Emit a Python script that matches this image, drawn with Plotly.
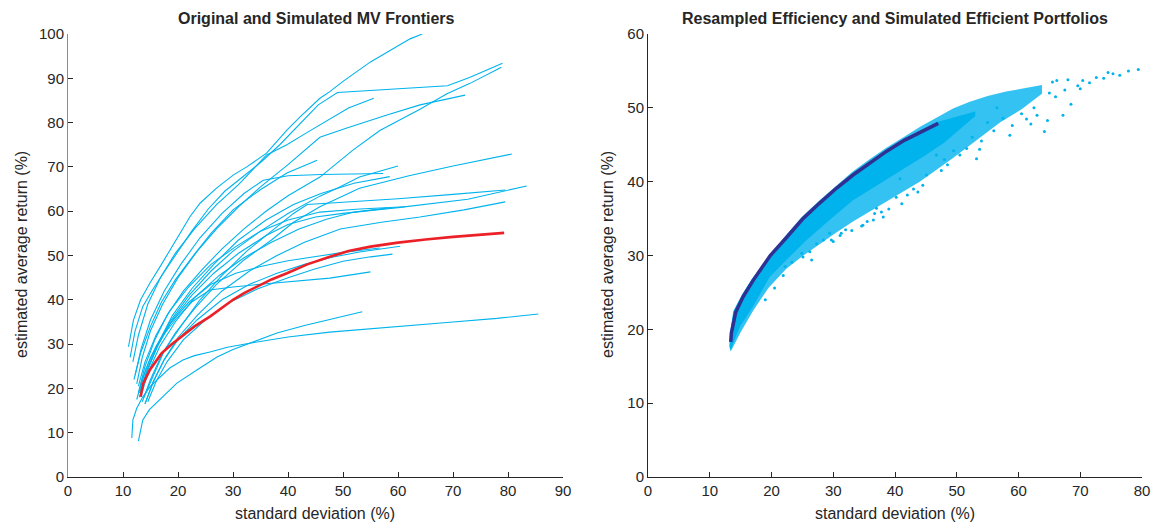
import plotly.graph_objects as go

# ---------------- Left panel: simulated MV frontiers (sd %, return %) ----------------
sim01_sd = [11.0, 11.9, 13.2, 14.9, 16.8, 18.5, 20.7, 22.2, 24.0, 27.0, 30.1, 32.5, 36.1, 39.8, 42.2, 45.8, 47.6, 50.0, 55.0, 58.5, 62.2, 64.4]
sim01_ret = [29.4, 35.4, 40.0, 43.8, 47.6, 51.2, 55.8, 58.8, 61.8, 65.2, 68.2, 70.0, 73.1, 78.3, 81.3, 85.5, 87.0, 89.3, 93.7, 96.3, 98.9, 100.0]
sim02_sd = [11.3, 12.2, 13.6, 15.5, 17.6, 19.8, 22.5, 25.5, 28.5, 31.5, 35.0, 38.5, 42.0, 45.5, 49.0, 58.0, 69.0, 73.0, 76.2, 79.0]
sim02_ret = [27.0, 33.0, 38.5, 42.5, 46.5, 50.5, 55.5, 60.5, 64.5, 67.5, 71.0, 75.0, 79.5, 84.0, 86.8, 87.5, 88.3, 90.2, 91.9, 93.4]
sim03_sd = [12.8, 14.0, 15.8, 18.0, 21.0, 24.5, 28.0, 32.0, 36.0, 40.0, 45.8, 51.8, 56.7, 64.0, 68.9, 73.0, 78.8]
sim03_ret = [19.0, 25.0, 31.0, 36.5, 42.0, 47.0, 51.5, 56.0, 60.0, 63.5, 67.7, 73.8, 78.2, 83.0, 86.5, 88.8, 92.5]
sim04_sd = [12.5, 13.5, 15.0, 17.2, 20.0, 23.5, 27.0, 31.0, 35.0, 40.0, 45.8, 50.7, 58.0, 64.0, 72.2]
sim04_ret = [21.0, 27.0, 33.0, 39.0, 45.0, 51.0, 56.0, 61.0, 65.5, 70.5, 76.7, 78.8, 81.7, 84.0, 86.2]
sim05_sd = [11.8, 12.8, 14.5, 16.8, 19.5, 23.0, 27.0, 31.0, 36.1, 39.8, 43.5, 47.6, 51.0, 55.6]
sim05_ret = [26.0, 32.0, 39.0, 45.0, 50.5, 56.0, 61.5, 66.0, 72.7, 75.0, 77.8, 80.8, 83.3, 85.5]
sim06_sd = [12.0, 13.2, 15.0, 17.0, 19.5, 22.5, 26.0, 30.0, 34.9, 39.8, 45.3]
sim06_ret = [22.0, 28.0, 34.0, 39.5, 44.5, 49.5, 55.0, 60.3, 64.8, 68.6, 71.5]
sim07_sd = [13.0, 14.3, 16.0, 18.5, 22.0, 26.0, 30.0, 35.0, 40.0, 45.8, 49.5, 53.0, 60.0]
sim07_ret = [18.0, 23.5, 29.0, 35.0, 41.0, 46.5, 51.0, 55.5, 59.5, 63.4, 65.5, 67.7, 70.2]
sim08_sd = [12.2, 13.3, 15.0, 17.5, 20.5, 24.0, 28.0, 32.0, 35.5, 40.0, 46.0, 52.0, 57.3]
sim08_ret = [23.0, 29.0, 35.5, 42.0, 48.0, 54.0, 59.5, 64.0, 67.0, 68.0, 68.3, 68.4, 68.5]
sim09_sd = [13.2, 14.5, 16.5, 19.0, 22.5, 26.5, 31.0, 36.0, 41.0, 46.0, 52.0, 58.5]
sim09_ret = [19.0, 24.5, 30.5, 36.5, 42.5, 48.0, 53.5, 58.0, 61.5, 64.0, 66.3, 67.8]
sim10_sd = [13.5, 15.0, 17.0, 19.5, 23.0, 27.0, 32.0, 37.0, 41.0, 45.8, 53.0, 62.0, 70.0, 80.7]
sim10_ret = [17.0, 22.0, 27.5, 32.5, 38.0, 43.5, 49.0, 53.5, 57.5, 61.0, 65.2, 68.0, 70.2, 72.9]
sim11_sd = [13.0, 14.5, 16.5, 19.0, 22.5, 26.5, 31.0, 36.0, 40.0, 45.0, 50.0, 60.0, 72.7, 83.4]
sim11_ret = [19.0, 24.5, 30.0, 35.5, 41.0, 46.0, 50.5, 54.5, 57.0, 58.7, 59.5, 60.8, 62.7, 65.7]
sim12_sd = [13.8, 15.5, 17.5, 20.5, 24.0, 28.0, 32.5, 37.0, 41.0, 43.5, 50.0, 60.0, 70.0, 79.5]
sim12_ret = [18.0, 23.0, 28.5, 34.0, 40.0, 45.5, 51.0, 55.5, 59.5, 61.5, 62.0, 62.8, 63.8, 64.8]
sim13_sd = [14.0, 15.5, 17.5, 20.0, 23.5, 28.0, 33.0, 38.0, 43.0, 49.5, 57.0, 64.0, 72.0, 79.5]
sim13_ret = [16.5, 21.5, 26.5, 31.5, 36.5, 42.0, 46.5, 50.0, 53.0, 56.0, 57.5, 58.7, 60.3, 62.1]
sim14_sd = [12.8, 14.0, 16.0, 18.5, 22.0, 26.0, 30.5, 35.0, 40.0, 45.8, 53.0, 61.3]
sim14_ret = [20.5, 26.0, 32.0, 37.5, 43.0, 48.0, 52.0, 55.5, 58.0, 59.8, 60.5, 61.0]
sim15_sd = [13.3, 14.7, 16.7, 19.5, 23.0, 27.5, 32.0, 37.0, 42.0, 47.0, 52.0, 58.0]
sim15_ret = [18.5, 24.0, 29.5, 35.0, 40.5, 45.5, 49.5, 53.0, 56.0, 58.2, 59.8, 60.7]
sim16_sd = [14.0, 15.5, 17.5, 20.0, 23.5, 28.0, 33.0, 38.0, 43.0, 48.0, 53.0, 60.4]
sim16_ret = [16.5, 21.5, 26.5, 31.0, 35.5, 40.0, 43.5, 46.0, 48.0, 49.6, 50.8, 52.1]
sim17_sd = [14.5, 16.0, 18.0, 21.0, 25.0, 29.5, 34.5, 40.0, 45.0, 50.0, 55.0, 59.0]
sim17_ret = [17.0, 21.5, 26.0, 31.0, 35.5, 39.5, 42.5, 45.0, 47.0, 48.7, 49.7, 50.3]
sim18_sd = [13.0, 14.2, 16.0, 18.5, 22.0, 26.0, 30.5, 35.0, 40.0, 45.0, 50.0, 56.7]
sim18_ret = [19.5, 24.5, 29.5, 34.5, 39.5, 43.5, 46.0, 47.5, 48.8, 49.8, 50.7, 51.7]
sim19_sd = [12.5, 13.5, 15.0, 17.0, 19.5, 22.5, 25.8, 30.0, 35.0, 41.0, 47.6, 55.0]
sim19_ret = [17.5, 22.0, 27.0, 31.5, 35.5, 39.5, 42.2, 42.9, 43.5, 44.2, 44.9, 46.3]
sim20_sd = [12.8, 13.6, 14.8, 16.2, 18.0, 19.8, 23.5, 27.1, 30.0, 33.0, 38.0, 43.0, 47.6, 53.5]
sim20_ret = [8.1, 12.9, 15.2, 16.9, 19.2, 21.2, 24.2, 27.1, 28.8, 30.2, 32.5, 34.2, 35.5, 37.3]
sim21_sd = [11.6, 11.8, 12.5, 13.6, 15.0, 16.7, 18.5, 20.9, 23.0, 25.8, 29.0, 33.0, 40.0, 47.6, 55.0, 62.0, 70.0, 78.0, 85.5]
sim21_ret = [8.8, 12.9, 15.5, 18.1, 20.5, 22.6, 24.6, 26.4, 27.4, 28.2, 29.3, 30.2, 31.6, 32.7, 33.5, 34.1, 35.0, 35.8, 36.8]

# original frontier
orig_sd = [13.2, 13.7, 14.9, 17.0, 18.8, 20.6, 23.0, 25.8, 28.0, 30.0, 32.0, 34.3, 37.0, 39.8, 43.5, 47.6, 51.0, 55.0, 60.0, 65.0, 70.0, 79.3]
orig_ret = [18.1, 21.2, 24.2, 27.9, 29.9, 31.7, 34.0, 36.2, 38.3, 40.0, 41.5, 43.0, 44.6, 46.0, 48.0, 49.7, 51.0, 52.0, 52.9, 53.6, 54.2, 55.1]

# ---------------- Right panel ----------------
# resampled efficient frontier
resamp_sd = [13.4, 13.5, 14.2, 15.4, 17.0, 18.1, 19.8, 22.4, 25.0, 27.8, 30.5, 33.2, 36.0, 38.6, 41.5, 44.0, 46.0, 47.0]
resamp_ret = [18.3, 19.5, 22.3, 24.4, 26.6, 28.0, 30.0, 32.4, 34.9, 37.1, 39.1, 40.9, 42.6, 44.1, 45.6, 46.7, 47.5, 47.9]

# dense core of simulated efficient portfolios (outline)
core_up_sd = [13.2, 13.3, 13.8, 15.2, 16.8, 18.1, 19.8, 22.4, 25.0, 27.8, 30.5, 33.2, 36.0, 38.6, 41.5, 44.0, 47.0, 49.0, 51.0, 53.0]
core_up_ret = [17.6, 19.5, 22.4, 24.7, 26.8, 28.2, 30.2, 32.6, 35.1, 37.3, 39.3, 41.1, 42.8, 44.3, 45.8, 46.9, 48.1, 48.6, 49.1, 49.5]
core_lo_sd = [13.4, 14.0, 14.9, 17.0, 19.7, 22.4, 25.7, 29.4, 33.2, 37.5, 41.9, 45.0, 48.0, 50.0, 53.0]
core_lo_ret = [17.1, 18.6, 20.4, 23.1, 27.1, 29.4, 32.1, 34.8, 37.5, 39.7, 42.0, 43.6, 45.3, 46.7, 48.9]
# lighter, speckled fringe around the core
fringe_up_sd = [13.2, 13.4, 14.0, 15.5, 17.0, 19.5, 22.4, 25.0, 27.8, 30.5, 33.2, 36.0, 38.6, 41.5, 44.0, 47.0, 49.4, 52.0, 55.0, 58.0, 61.0, 63.8]
fringe_up_ret = [17.8, 19.8, 22.7, 25.0, 27.0, 29.8, 32.8, 35.3, 37.5, 39.5, 41.4, 43.1, 44.6, 46.1, 47.4, 48.8, 49.9, 50.8, 51.6, 52.2, 52.7, 53.1]
fringe_lo_sd = [13.4, 15.0, 17.0, 19.5, 22.4, 25.0, 27.8, 30.5, 33.2, 38.6, 44.0, 49.4, 53.0, 57.0, 60.5, 63.8]
fringe_lo_ret = [17.0, 19.6, 22.5, 25.6, 28.2, 29.9, 31.5, 33.1, 34.6, 37.3, 40.0, 43.2, 45.5, 48.0, 49.8, 51.9]
# scattered individual portfolios outside the fringe
dots_sd = [31.1, 34.6, 38.1, 41.1, 43.7, 45.1, 47.5, 53.2, 27.3, 24.9, 23.3, 22.2, 28.4, 29.4, 33.0, 34.8,
           36.7, 37.0, 40.2, 40.8, 36.5, 31.3, 29.7, 26.2, 53.7, 58.6, 64.2, 67.2, 64.7, 61.3, 50.5, 51.6,
           46.7, 44.5, 37.8, 25.1, 21.9, 20.5, 19.0, 66.2, 70.4, 72.6, 75.3, 79.4, 71.5, 69.6, 73.8, 67.5,
           76.4, 65.0, 68.5, 62.5, 59.0, 56.0, 55.0, 48.5, 57.5, 60.5, 63.0, 66.0, 62.0, 65.5, 56.5, 54.0,
           49.5, 52.5, 42.0, 39.0, 35.5, 32.0, 30.0, 26.5, 43.0, 48.0, 70.0, 74.5, 77.8, 68.0]
dots_ret = [32.7, 34.0, 35.2, 37.0, 38.6, 40.9, 41.5, 43.1, 31.6, 30.3, 29.1, 28.5, 32.1, 33.0, 33.4, 34.1,
            35.7, 36.4, 37.9, 40.4, 34.8, 33.0, 32.1, 30.5, 44.4, 46.3, 46.8, 49.0, 48.3, 48.5, 43.6, 44.5,
            43.6, 39.5, 35.9, 29.8, 27.3, 25.6, 24.0, 53.7, 53.7, 54.1, 54.6, 55.2, 53.4, 53.0, 54.0, 52.4,
            54.4, 52.0, 50.5, 50.0, 47.6, 46.9, 48.0, 42.3, 48.6, 49.2, 49.0, 51.5, 47.8, 53.5, 50.0, 45.5,
            44.2, 46.0, 38.2, 36.3, 34.6, 33.5, 31.9, 29.4, 39.0, 43.0, 52.6, 54.8, 55.0, 53.8]

CYAN = "#00B3ED"
RED = "#EC2127"
NAVY = "#2E3192"
AX = "#262626"
FONT = "Liberation Sans, Arial, Helvetica, sans-serif"

fig = go.Figure()

sims = [
    (sim01_sd, sim01_ret), (sim02_sd, sim02_ret), (sim03_sd, sim03_ret), (sim04_sd, sim04_ret),
    (sim05_sd, sim05_ret), (sim06_sd, sim06_ret), (sim07_sd, sim07_ret), (sim08_sd, sim08_ret),
    (sim09_sd, sim09_ret), (sim10_sd, sim10_ret), (sim11_sd, sim11_ret), (sim12_sd, sim12_ret),
    (sim13_sd, sim13_ret), (sim14_sd, sim14_ret), (sim15_sd, sim15_ret), (sim16_sd, sim16_ret),
    (sim17_sd, sim17_ret), (sim18_sd, sim18_ret), (sim19_sd, sim19_ret), (sim20_sd, sim20_ret),
    (sim21_sd, sim21_ret),
]
for sx, sy in sims:
    fig.add_trace(go.Scatter(x=sx, y=sy, mode="lines", line=dict(color=CYAN, width=1.1),
                             showlegend=False, xaxis="x", yaxis="y"))
fig.add_trace(go.Scatter(x=orig_sd, y=orig_ret, mode="lines", line=dict(color=RED, width=2.6),
                         showlegend=False, xaxis="x", yaxis="y"))

# right panel
fig.add_trace(go.Scatter(x=fringe_up_sd + fringe_lo_sd[::-1], y=fringe_up_ret + fringe_lo_ret[::-1],
                         mode="lines", fill="toself", fillcolor="rgba(0,179,237,0.8)",
                         line=dict(width=0), showlegend=False, xaxis="x2", yaxis="y2"))
fig.add_trace(go.Scatter(x=core_up_sd + core_lo_sd[::-1], y=core_up_ret + core_lo_ret[::-1],
                         mode="lines", fill="toself", fillcolor=CYAN,
                         line=dict(width=0), showlegend=False, xaxis="x2", yaxis="y2"))
fig.add_trace(go.Scatter(x=dots_sd, y=dots_ret, mode="markers", marker=dict(color=CYAN, size=3),
                         showlegend=False, xaxis="x2", yaxis="y2"))
fig.add_trace(go.Scatter(x=resamp_sd, y=resamp_ret, mode="lines", line=dict(color=NAVY, width=3.5),
                         showlegend=False, xaxis="x2", yaxis="y2"))

# page coordinates (figure fills the 1157 x 524 window)
W, H = 1157, 524
def px_x(p):
    return p / W
def px_y(p):
    return 1 - p / H

axis_common = dict(showgrid=False, zeroline=False, showline=True, linewidth=1, automargin=False,
                   ticks="inside", ticklen=5, tickcolor=AX, tickwidth=1,
                   tickfont=dict(family=FONT, size=15, color=AX),
                   mirror=False, fixedrange=True)

fig.update_layout(
    width=W, height=H, margin=dict(l=0, r=0, t=0, b=0, pad=0),
    paper_bgcolor="white", plot_bgcolor="white",
    xaxis=dict(domain=[px_x(68), px_x(563)], range=[0, 90], tickmode="array", linecolor=AX,
               tickvals=list(range(0, 91, 10)), anchor="y", **axis_common),
    yaxis=dict(domain=[px_y(477), px_y(34)], range=[0, 100], tickmode="array", linecolor="#8c8c8c",
               tickvals=list(range(0, 101, 10)), anchor="x", **axis_common),
    xaxis2=dict(domain=[px_x(648), px_x(1142)], range=[0, 80], tickmode="array", linecolor=AX,
                tickvals=list(range(0, 81, 10)), anchor="y2", **axis_common),
    yaxis2=dict(domain=[px_y(477), px_y(34)], range=[0, 60], tickmode="array", linecolor=AX,
                tickvals=list(range(0, 61, 10)), anchor="x2", **axis_common),
)

annots = [
    dict(text="<b>Original and Simulated MV Frontiers</b>", x=px_x(316), y=px_y(18)),
    dict(text="<b>Resampled Efficiency and Simulated Efficient Portfolios</b>", x=px_x(895), y=px_y(18)),
    dict(text="standard deviation (%)", x=px_x(315), y=px_y(513)),
    dict(text="standard deviation (%)", x=px_x(895), y=px_y(513)),
    dict(text="estimated average return (%)", x=px_x(21), y=px_y(255), textangle=-90),
    dict(text="estimated average return (%)", x=px_x(607), y=px_y(255), textangle=-90),
]
for a in annots:
    fig.add_annotation(xref="paper", yref="paper", showarrow=False, xanchor="center", yanchor="middle",
                       font=dict(family=FONT, size=16, color=AX), **a)

fig.write_html("out.html")
